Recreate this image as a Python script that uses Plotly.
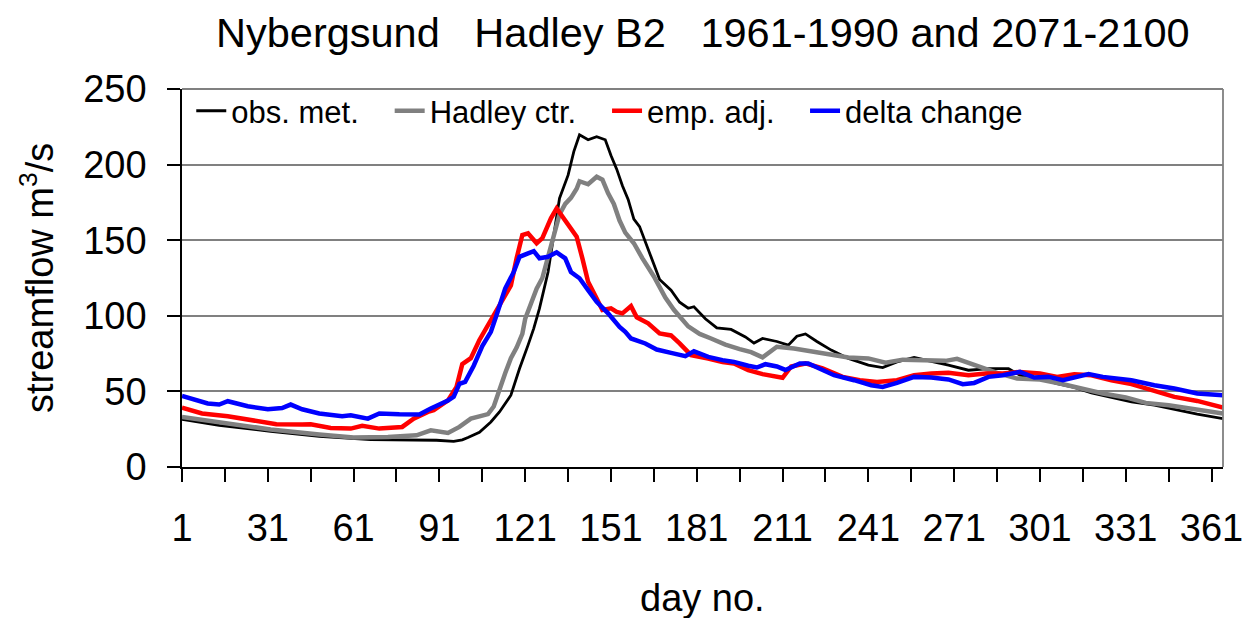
import plotly.graph_objects as go

# ---- data (day no. -> streamflow m3/s) ----
obs_days = [1, 14, 32, 49, 67, 78, 90, 96, 99, 101, 105, 109, 112, 116, 119, 122, 124, 126, 129, 131,
            133, 136, 138, 140, 143, 146, 149, 151, 153, 155, 157, 159, 161, 165, 168, 172, 175, 178, 180,
            184, 188, 193, 198, 201, 204, 209, 213, 216, 219, 223, 228, 234, 241, 246, 251, 257, 263,
            269, 276, 283, 290, 294, 301, 307, 313, 319, 326, 333, 341, 348, 356, 365]
obs_vals = [31.6, 27.6, 23.6, 20.3, 18.1, 18.1, 17.7, 17.0, 18.0, 19.5, 23, 29.8, 36.4, 47.5, 65, 80.6, 91.7,
            104.9, 129, 153.4, 177.7, 193, 208.6, 219.7, 216.4, 218.5, 216.4, 206, 197, 186, 177, 164, 159,
            139, 124, 117, 109, 105, 106, 98, 92, 91, 86, 82, 85, 83, 80.6, 86.5, 88, 83, 77.3, 71.8, 67.4,
            65.8, 69.5, 72.4, 70, 67.4, 64, 65, 65, 60.7, 58.5, 55.2, 52.6, 49, 46, 43, 40.9, 38.2, 34.9, 32]

ctr_days = [1, 14, 32, 49, 61, 73, 83, 88, 94, 98, 102, 106, 108, 110, 112, 114, 116, 118, 120, 121, 123,
            125, 127, 129, 131, 133, 135, 137, 139, 140, 143, 146, 148, 150, 152, 154, 156, 159, 162, 166,
            170, 173, 178, 182, 186, 191, 196, 200, 204, 209, 215, 222, 228, 234, 241, 247, 253, 261, 268,
            272, 278, 286, 293, 301, 308, 316, 323, 331, 338, 346, 353, 365]
ctr_vals = [33.1, 29.4, 24.8, 21.5, 19.5, 19.9, 21.0, 24.3, 22.5, 26.5, 32, 34, 35, 40, 52, 62, 72, 79, 88,
            98, 108, 118, 125, 140, 152, 167, 174, 178, 184, 189, 187, 192, 190, 181, 174, 163, 155, 148,
            138, 126, 112, 104, 93, 88, 85, 81, 78, 76, 72.5, 79.5, 78.4, 76, 74, 72.4, 71.8, 69, 71, 70.2,
            70.2, 71.5, 67.4, 62.3, 58.5, 57.9, 55.2, 51.3, 48.6, 46, 42.4, 40.9, 38.7, 35.4]

emp_days = [1, 8, 17, 26, 34, 43, 46, 53, 60, 64, 70, 78, 82, 87, 89, 94, 97, 99, 102, 105, 109, 112, 116,
            118, 120, 122, 125, 127, 130, 132, 134, 137, 139, 141, 143, 146, 148, 151, 153, 155, 158, 160,
            164, 168, 172, 175, 179, 185, 190, 194, 199, 204, 209, 211, 214, 219, 225, 232, 238, 244, 251,
            257, 263, 269, 276, 282, 288, 294, 301, 307, 313, 319, 326, 333, 341, 348, 356, 365]
emp_vals = [39.3, 35.4, 33.6, 30.9, 28.3, 28.1, 28.3, 25.8, 25.4, 27.2, 25.4, 26.5, 32, 36.4, 37.5, 44, 53,
            68, 72, 84, 97, 107, 120, 138, 153.4, 154.6, 148, 151.3, 164.5, 171, 165.6, 158, 152.3, 138,
            122.5, 111.5, 103.8, 104.9, 102.6, 101.6, 106.4, 99, 95, 88.3, 87, 81.7, 74, 71.8, 69.5, 68.5,
            64, 61.4, 59.6, 59, 66.5, 68.5, 65.2, 59.6, 57.4, 56.3, 57.4, 60.7, 61.9, 62.3, 60.7, 61.9, 61.9,
            62.9, 61.9, 59.6, 61.4, 60.7, 57.4, 54.8, 50.3, 46.4, 43.7, 39.3]

dlt_days = [1, 10, 14, 17, 24, 31, 36, 39, 43, 49, 57, 60, 66, 70, 77, 84, 88, 90, 94, 96, 98, 100, 103,
            106, 108, 109, 111, 114, 117, 119, 122, 124, 126, 129, 132, 135, 137, 140, 143, 146, 150, 154,
            156, 158, 163, 167, 172, 177, 180, 185, 190, 194, 199, 202, 205, 209, 212, 217, 220, 223, 229,
            236, 242, 246, 251, 257, 263, 269, 274, 278, 283, 288, 294, 299, 304, 309, 313, 318, 323, 328,
            333, 341, 348, 356, 365]
dlt_vals = [47, 42, 41.3, 43.5, 40.2, 38.2, 39, 41.3, 38.2, 35.4, 33.6, 34.2, 32, 35.4, 34.9, 34.7, 38.7,
            40.2, 44, 46.4, 55, 56.3, 67, 80, 86, 89.4, 100.5, 118, 129, 139, 141.3, 142.8, 138, 139, 142,
            138, 129, 124.8, 117, 109.3, 101.6, 92.7, 89.4, 85, 81.7, 77.7, 75.5, 73.3, 76.5, 72.8, 70.7,
            69.5, 67, 65.8, 68, 66.5, 64.2, 68.5, 68.5, 65.8, 60.7, 57.4, 54.1, 53, 55.6, 59.6, 59.2, 57.9,
            54.8, 55.6, 59.6, 60.7, 62.9, 59.2, 59.6, 57.4, 59, 61.4, 59.6, 58.5, 57.4, 54.1, 51.9, 48.6, 47.5]

x_ticks = [1, 31, 61, 91, 121, 151, 181, 211, 241, 271, 301, 331, 361]
y_ticks = [0, 50, 100, 150, 200, 250]

series_names = ["obs. met.", "Hadley ctr.", "emp. adj.", "delta change"]
series_days = [obs_days, ctr_days, emp_days, dlt_days]
series_vals = [obs_vals, ctr_vals, emp_vals, dlt_vals]
series_colors = ["#000000", "#808080", "#FF0000", "#0000FF"]
series_widths = [2.8, 4.5, 4.5, 4.5]
legend_ids = ["legend", "legend2", "legend3", "legend4"]
legend_x = [0.0089, 0.1995, 0.4083, 0.5985]

FONT = "Liberation Sans, Arial, sans-serif"

fig = go.Figure()
for name, d, v, c, w, lg in zip(series_names, series_days, series_vals, series_colors,
                                series_widths, legend_ids):
    fig.add_trace(go.Scatter(x=d, y=v, mode="lines", name=name, legend=lg,
                             line=dict(color=c, width=w)))

legend_common = dict(orientation="h", y=1.013, xanchor="left", yanchor="top",
                     font=dict(size=31, family=FONT, color="black"),
                     bgcolor="rgba(255,255,255,0)", itemwidth=30)
layout_legends = {}
for lg, lx in zip(legend_ids, legend_x):
    layout_legends[lg] = dict(legend_common, x=lx)

fig.update_layout(
    width=1247, height=618, autosize=False,
    margin=dict(l=182, r=24, t=89, b=151, autoexpand=False),
    paper_bgcolor="white", plot_bgcolor="white",
    font=dict(family=FONT, color="black", size=38),
    showlegend=True,
    annotations=[
        dict(text="Nybergsund\u00a0\u00a0\u00a0Hadley B2\u00a0\u00a0\u00a01961-1990 and 2071-2100",
             xref="paper", yref="paper", x=0.5, y=1 + 57/378, xanchor="center", yanchor="middle",
             showarrow=False, font=dict(size=41.5, family=FONT)),
        dict(text="streamflow m<sup>3</sup>/s", textangle=-90,
             xref="paper", yref="paper", x=-145/1041, y=0.5, xanchor="center", yanchor="middle",
             showarrow=False, font=dict(size=38, family=FONT)),
        dict(text="day no.", xref="paper", yref="paper", x=0.5, y=-131/378,
             xanchor="center", yanchor="middle", showarrow=False, font=dict(size=38, family=FONT)),
    ],
    shapes=[
        dict(type="line", xref="paper", yref="paper", x0=0, x1=1, y0=1, y1=1,
             line=dict(color="#808080", width=1.8)),
        dict(type="line", xref="paper", yref="paper", x0=1, x1=1, y0=0, y1=1,
             line=dict(color="#808080", width=1.8)),
    ],
    **layout_legends,
)

fig.update_xaxes(range=[1, 365], tickmode="array", tickvals=x_ticks, ticktext=[str(t) for t in x_ticks],
                 ticks="outside", ticklen=13, tickwidth=1.5, tickcolor="black", automargin=False,
                 minor=dict(ticks="outside", tickmode="linear", tick0=1, dtick=15, ticklen=13,
                            tickwidth=1.5, tickcolor="black", showgrid=False),
                 showline=True, linecolor="black", linewidth=1.5, showgrid=False, zeroline=False,
                 ticklabelstandoff=14, tickfont=dict(size=38, family=FONT))
fig.update_yaxes(range=[0, 250], tickmode="array", tickvals=y_ticks, ticks="outside", ticklen=13,
                 tickwidth=1.5, tickcolor="black", showline=True, linecolor="black", linewidth=1.5,
                 showgrid=True, gridcolor="#808080", gridwidth=1.8, zeroline=False, automargin=False,
                 ticklabelstandoff=13, tickfont=dict(size=38, family=FONT))

fig.write_html("out.html",
               config={"responsive": False, "displayModeBar": False},
               post_script="document.body.style.margin='0px';document.body.style.overflow='hidden';")
